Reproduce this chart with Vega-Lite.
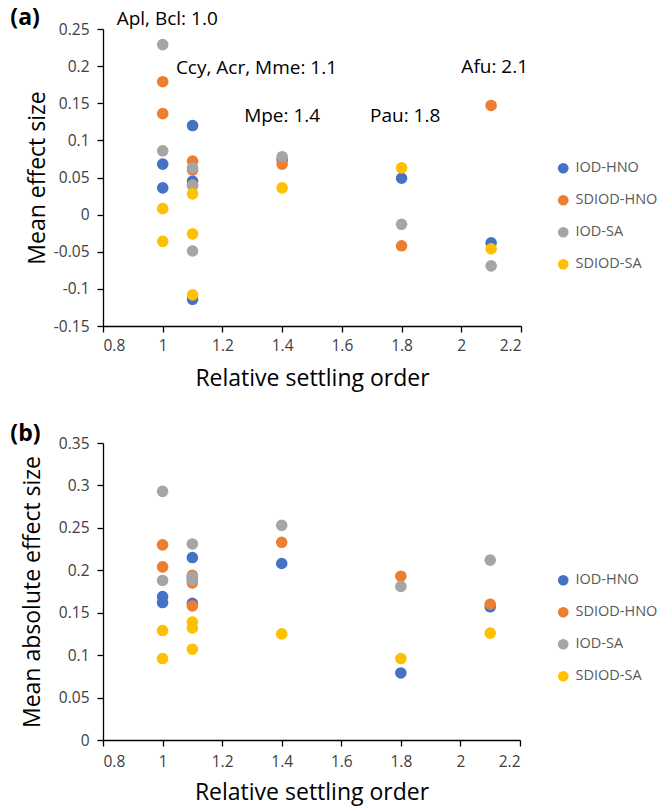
{
  "$schema": "https://vega.github.io/schema/vega-lite/v6.json",
  "padding": {"left": 10, "top": 7, "right": 0, "bottom": 4},
  "background": "white",
  "config": {
    "view": {"stroke": null},
    "font": "Open Sans",
    "axis": {
      "grid": false, "domainColor": "#000000", "tickColor": "#000000", "tickSize": 6, "domainWidth": 1.3, "tickWidth": 1.3,
      "labelFont": "Open Sans", "labelFontSize": 15.5, "labelColor": "#404040", "labelPadding": 8, "labelOverlap": false,
      "titleFont": "Open Sans", "titleFontSize": 23, "titleFontWeight": "normal", "titleColor": "#000000"
    },
    "legend": {
      "orient": "none", "labelFont": "Open Sans", "labelFontSize": 14.5, "labelColor": "#595959",
      "symbolType": "circle", "symbolSize": 115, "rowPadding": 17, "labelOffset": 5, "title": null
    },
    "title": {"font": "Open Sans", "fontSize": 23, "fontWeight": "bold", "color": "#000000", "anchor": "start", "frame": "bounds"}
  },
  "datasets": {
    "a": [
      {"order": 1.0, "series": "IOD-HNO", "value": 0.068},
      {"order": 1.0, "series": "IOD-HNO", "value": 0.036},
      {"order": 1.1, "series": "IOD-HNO", "value": 0.120},
      {"order": 1.1, "series": "IOD-HNO", "value": 0.045},
      {"order": 1.1, "series": "IOD-HNO", "value": -0.114},
      {"order": 1.4, "series": "IOD-HNO", "value": 0.074},
      {"order": 1.8, "series": "IOD-HNO", "value": 0.049},
      {"order": 2.1, "series": "IOD-HNO", "value": -0.038},
      {"order": 1.0, "series": "SDIOD-HNO", "value": 0.179},
      {"order": 1.0, "series": "SDIOD-HNO", "value": 0.136},
      {"order": 1.1, "series": "SDIOD-HNO", "value": 0.072},
      {"order": 1.1, "series": "SDIOD-HNO", "value": 0.060},
      {"order": 1.1, "series": "SDIOD-HNO", "value": 0.040},
      {"order": 1.4, "series": "SDIOD-HNO", "value": 0.068},
      {"order": 1.8, "series": "SDIOD-HNO", "value": -0.042},
      {"order": 2.1, "series": "SDIOD-HNO", "value": 0.147},
      {"order": 1.0, "series": "IOD-SA", "value": 0.229},
      {"order": 1.0, "series": "IOD-SA", "value": 0.086},
      {"order": 1.1, "series": "IOD-SA", "value": 0.063},
      {"order": 1.1, "series": "IOD-SA", "value": 0.039},
      {"order": 1.1, "series": "IOD-SA", "value": -0.049},
      {"order": 1.4, "series": "IOD-SA", "value": 0.078},
      {"order": 1.8, "series": "IOD-SA", "value": -0.013},
      {"order": 2.1, "series": "IOD-SA", "value": -0.069},
      {"order": 1.0, "series": "SDIOD-SA", "value": 0.008},
      {"order": 1.0, "series": "SDIOD-SA", "value": -0.036},
      {"order": 1.1, "series": "SDIOD-SA", "value": 0.028},
      {"order": 1.1, "series": "SDIOD-SA", "value": -0.026},
      {"order": 1.1, "series": "SDIOD-SA", "value": -0.108},
      {"order": 1.4, "series": "SDIOD-SA", "value": 0.036},
      {"order": 1.8, "series": "SDIOD-SA", "value": 0.063},
      {"order": 2.1, "series": "SDIOD-SA", "value": -0.046}
    ],
    "b": [
      {"order": 1.0, "series": "IOD-HNO", "value": 0.169},
      {"order": 1.0, "series": "IOD-HNO", "value": 0.162},
      {"order": 1.1, "series": "IOD-HNO", "value": 0.215},
      {"order": 1.1, "series": "IOD-HNO", "value": 0.190},
      {"order": 1.1, "series": "IOD-HNO", "value": 0.161},
      {"order": 1.4, "series": "IOD-HNO", "value": 0.208},
      {"order": 1.8, "series": "IOD-HNO", "value": 0.079},
      {"order": 2.1, "series": "IOD-HNO", "value": 0.157},
      {"order": 1.0, "series": "SDIOD-HNO", "value": 0.230},
      {"order": 1.0, "series": "SDIOD-HNO", "value": 0.204},
      {"order": 1.1, "series": "SDIOD-HNO", "value": 0.194},
      {"order": 1.1, "series": "SDIOD-HNO", "value": 0.185},
      {"order": 1.1, "series": "SDIOD-HNO", "value": 0.158},
      {"order": 1.4, "series": "SDIOD-HNO", "value": 0.233},
      {"order": 1.8, "series": "SDIOD-HNO", "value": 0.193},
      {"order": 2.1, "series": "SDIOD-HNO", "value": 0.160},
      {"order": 1.0, "series": "IOD-SA", "value": 0.293},
      {"order": 1.0, "series": "IOD-SA", "value": 0.188},
      {"order": 1.1, "series": "IOD-SA", "value": 0.231},
      {"order": 1.1, "series": "IOD-SA", "value": 0.192},
      {"order": 1.1, "series": "IOD-SA", "value": 0.188},
      {"order": 1.4, "series": "IOD-SA", "value": 0.253},
      {"order": 1.8, "series": "IOD-SA", "value": 0.181},
      {"order": 2.1, "series": "IOD-SA", "value": 0.212},
      {"order": 1.0, "series": "SDIOD-SA", "value": 0.129},
      {"order": 1.0, "series": "SDIOD-SA", "value": 0.096},
      {"order": 1.1, "series": "SDIOD-SA", "value": 0.139},
      {"order": 1.1, "series": "SDIOD-SA", "value": 0.132},
      {"order": 1.1, "series": "SDIOD-SA", "value": 0.107},
      {"order": 1.4, "series": "SDIOD-SA", "value": 0.125},
      {"order": 1.8, "series": "SDIOD-SA", "value": 0.096},
      {"order": 2.1, "series": "SDIOD-SA", "value": 0.126}
    ],
    "notes": [
      {"label": "Apl, Bcl: 1.0", "order": 1.015, "value": 0.263},
      {"label": "Ccy, Acr, Mme: 1.1", "order": 1.314, "value": 0.197},
      {"label": "Mpe: 1.4", "order": 1.4, "value": 0.133},
      {"label": "Pau: 1.8", "order": 1.812, "value": 0.133},
      {"label": "Afu: 2.1", "order": 2.112, "value": 0.199}
    ]
  },
  "resolve": {"legend": {"color": "independent"}},
  "align": "none",
  "spacing": 32,
  "vconcat": [
    {
      "title": {"text": "(a)", "dx": -16.5, "offset": -20},
      "width": 418,
      "height": 297,
      "encoding": {
        "x": {"field": "order", "type": "quantitative", "title": "Relative settling order",
          "scale": {"domain": [0.8, 2.2], "nice": false, "zero": false},
          "axis": {"values": [0.8, 1, 1.2, 1.4, 1.6, 1.8, 2, 2.2], "format": "~g", "titlePadding": 14, "labelPadding": 6}},
        "y": {"field": "value", "type": "quantitative", "title": "Mean effect size",
          "scale": {"domain": [-0.15, 0.25], "nice": false, "zero": false},
          "axis": {"values": [-0.15, -0.1, -0.05, 0, 0.05, 0.1, 0.15, 0.2, 0.25], "labelOverlap": false, "labelExpr": "(datum.value < 0 ? '-' : '') + format(abs(datum.value), '~g')", "titlePadding": 3.5}}
      },
      "layer": [
        {
          "data": {"name": "a"},
          "mark": {"type": "circle", "size": 135, "opacity": 1},
          "encoding": {
            "color": {"field": "series", "type": "nominal",
              "scale": {"domain": ["IOD-HNO", "SDIOD-HNO", "IOD-SA", "SDIOD-SA"], "range": ["#4472C4", "#ED7D31", "#A5A5A5", "#FFC000"]},
              "legend": {"legendX": 453, "legendY": 132}}
          }
        },
        {
          "data": {"name": "notes"},
          "mark": {"type": "text", "fontSize": 19, "font": "Open Sans", "color": "#000000", "align": "center", "baseline": "middle", "clip": false},
          "encoding": {
            "text": {"field": "label", "type": "nominal"}
          }
        }
      ]
    },
    {
      "title": {"text": "(b)", "dx": -11.5, "offset": -10},
      "width": 417,
      "height": 297,
      "data": {"name": "b"},
      "mark": {"type": "circle", "size": 135, "opacity": 1},
      "encoding": {
        "x": {"field": "order", "type": "quantitative", "title": "Relative settling order",
          "scale": {"domain": [0.8, 2.2], "nice": false, "zero": false},
          "axis": {"values": [0.8, 1, 1.2, 1.4, 1.6, 1.8, 2, 2.2], "format": "~g", "titlePadding": 12, "labelPadding": 8}},
        "y": {"field": "value", "type": "quantitative", "title": "Mean absolute effect size",
          "scale": {"domain": [0, 0.35], "nice": false, "zero": false},
          "axis": {"values": [0, 0.05, 0.1, 0.15, 0.2, 0.25, 0.3, 0.35], "format": "~g", "titlePadding": 13.5}},
        "color": {"field": "series", "type": "nominal",
          "scale": {"domain": ["IOD-HNO", "SDIOD-HNO", "IOD-SA", "SDIOD-SA"], "range": ["#4472C4", "#ED7D31", "#A5A5A5", "#FFC000"]},
          "legend": {"legendX": 453, "legendY": 130}}
      }
    }
  ]
}
